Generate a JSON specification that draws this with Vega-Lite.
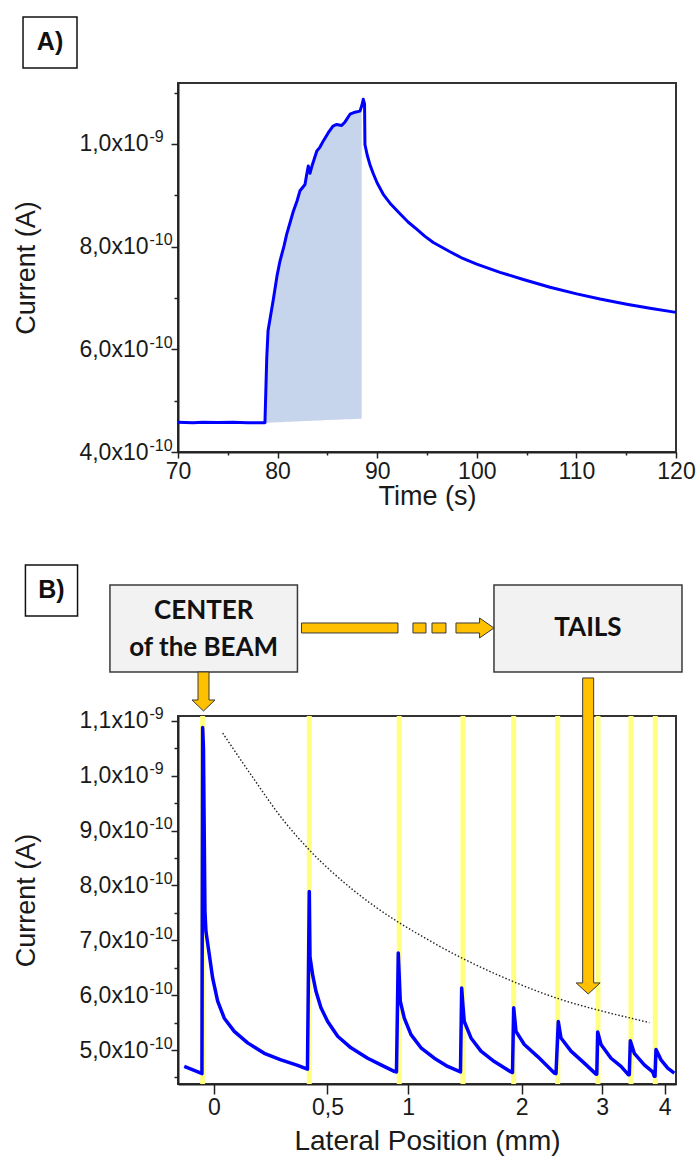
{
  "$schema": "https://vega.github.io/schema/vega-lite/v6.json",
  "background": "white",
  "padding": {"left": 11, "top": 15, "right": 0, "bottom": 0},
  "spacing": 53,
  "config": {
    "view": {"stroke": "#333333", "strokeWidth": 2},
    "axis": {
      "labelFont": "Liberation Sans", "labelFontSize": 23, "labelColor": "#1a1a1a",
      "titleFont": "Liberation Sans", "titleFontSize": 27, "titleFontWeight": "normal", "titleColor": "#1a1a1a",
      "domainColor": "#222222", "domainWidth": 2, "tickColor": "#222222", "tickWidth": 1.5,
      "grid": false, "labelFlush": false, "labelOverlap": false, "labelBound": false
    }
  },
  "vconcat": [
    {
      "width": 498,
      "height": 369,
      "layer": [
        {
          "data": {"values": [
            {"time": 78.85, "top": 4.57e-10, "base": 4.57e-10},
            {"time": 78.91, "top": 5.83e-10, "base": 4.57e-10},
            {"time": 79.04, "top": 6.36e-10, "base": 4.571e-10},
            {"time": 79.57, "top": 6.97e-10, "base": 4.576e-10},
            {"time": 79.94, "top": 7.43e-10, "base": 4.579e-10},
            {"time": 80.24, "top": 7.72e-10, "base": 4.581e-10},
            {"time": 80.64, "top": 8.01e-10, "base": 4.585e-10},
            {"time": 80.91, "top": 8.24e-10, "base": 4.587e-10},
            {"time": 81.24, "top": 8.46e-10, "base": 4.59e-10},
            {"time": 81.58, "top": 8.69e-10, "base": 4.592e-10},
            {"time": 81.95, "top": 8.89e-10, "base": 4.596e-10},
            {"time": 82.25, "top": 9.09e-10, "base": 4.598e-10},
            {"time": 82.75, "top": 9.21e-10, "base": 4.602e-10},
            {"time": 82.9, "top": 9.38e-10, "base": 4.604e-10},
            {"time": 83.08, "top": 9.57e-10, "base": 4.605e-10},
            {"time": 83.25, "top": 9.43e-10, "base": 4.607e-10},
            {"time": 83.45, "top": 9.57e-10, "base": 4.608e-10},
            {"time": 83.93, "top": 9.86e-10, "base": 4.612e-10},
            {"time": 84.26, "top": 9.94e-10, "base": 4.615e-10},
            {"time": 84.59, "top": 1.006e-9, "base": 4.618e-10},
            {"time": 85.09, "top": 1.022e-9, "base": 4.622e-10},
            {"time": 85.56, "top": 1.035e-9, "base": 4.626e-10},
            {"time": 85.93, "top": 1.038e-9, "base": 4.629e-10},
            {"time": 86.43, "top": 1.036e-9, "base": 4.633e-10},
            {"time": 86.77, "top": 1.043e-9, "base": 4.636e-10},
            {"time": 87.27, "top": 1.058e-9, "base": 4.64e-10},
            {"time": 87.77, "top": 1.062e-9, "base": 4.644e-10},
            {"time": 88.27, "top": 1.064e-9, "base": 4.649e-10},
            {"time": 88.44, "top": 1.066e-9, "base": 4.65e-10}
          ]},
          "mark": {"type": "area", "color": "#c6d4ec", "opacity": 1},
          "encoding": {
            "x": {"field": "time", "type": "quantitative",
                  "scale": {"domain": [70, 120], "nice": false, "zero": false},
                  "axis": {"orient": "bottom", "values": [70, 80, 90, 100, 110, 120], "tickSize": 6, "labelPadding": 2,
                           "labelExpr": "format(datum.value, 'd')", "title": "Time (s)", "titlePadding": 0}},
            "y": {"field": "top", "type": "quantitative",
                  "scale": {"domain": [4e-10, 1.1188e-9], "nice": false, "zero": false},
                  "axis": {"orient": "left", "values": [4e-10, 6e-10, 8e-10, 1e-9], "tickSize": 7, "labelPadding": 23,
                           "labelExpr": "datum.value < 9.5e-10 ? replace(format(datum.value * 1e10, '.1f'), '.', ',') + 'x10' : replace(format(datum.value * 1e9, '.1f'), '.', ',') + 'x10'",
                           "title": "Current (A)", "titlePadding": 38}},
            "y2": {"field": "base"}
          }
        },
        {
          "data": {"values": [
            {"time": 70, "current": 4.58e-10},
            {"time": 71.5, "current": 4.57e-10},
            {"time": 72.5, "current": 4.58e-10},
            {"time": 74, "current": 4.575e-10},
            {"time": 75.5, "current": 4.58e-10},
            {"time": 77, "current": 4.57e-10},
            {"time": 78.73, "current": 4.57e-10},
            {"time": 78.91, "current": 5.83e-10},
            {"time": 79.04, "current": 6.36e-10},
            {"time": 79.57, "current": 6.97e-10},
            {"time": 79.94, "current": 7.43e-10},
            {"time": 80.24, "current": 7.72e-10},
            {"time": 80.64, "current": 8.01e-10},
            {"time": 80.91, "current": 8.24e-10},
            {"time": 81.24, "current": 8.46e-10},
            {"time": 81.58, "current": 8.69e-10},
            {"time": 81.95, "current": 8.89e-10},
            {"time": 82.25, "current": 9.09e-10},
            {"time": 82.75, "current": 9.21e-10},
            {"time": 82.9, "current": 9.38e-10},
            {"time": 83.08, "current": 9.57e-10},
            {"time": 83.25, "current": 9.43e-10},
            {"time": 83.45, "current": 9.57e-10},
            {"time": 83.93, "current": 9.86e-10},
            {"time": 84.26, "current": 9.94e-10},
            {"time": 84.59, "current": 1.006e-9},
            {"time": 85.09, "current": 1.022e-9},
            {"time": 85.56, "current": 1.035e-9},
            {"time": 85.93, "current": 1.038e-9},
            {"time": 86.43, "current": 1.036e-9},
            {"time": 86.77, "current": 1.043e-9},
            {"time": 87.27, "current": 1.058e-9},
            {"time": 87.77, "current": 1.062e-9},
            {"time": 88.27, "current": 1.064e-9},
            {"time": 88.47, "current": 1.076e-9},
            {"time": 88.6, "current": 1.087e-9},
            {"time": 88.73, "current": 1.078e-9},
            {"time": 88.77, "current": 9.99e-10},
            {"time": 89.0, "current": 9.78e-10},
            {"time": 89.3, "current": 9.58e-10},
            {"time": 89.61, "current": 9.42e-10},
            {"time": 90.0, "current": 9.24e-10},
            {"time": 90.61, "current": 9.02e-10},
            {"time": 91.4, "current": 8.82e-10},
            {"time": 92.29, "current": 8.64e-10},
            {"time": 93.1, "current": 8.48e-10},
            {"time": 93.96, "current": 8.34e-10},
            {"time": 94.8, "current": 8.2e-10},
            {"time": 95.63, "current": 8.08e-10},
            {"time": 97.31, "current": 7.9e-10},
            {"time": 98.6, "current": 7.77e-10},
            {"time": 99.99, "current": 7.66e-10},
            {"time": 102.33, "current": 7.5e-10},
            {"time": 104.67, "current": 7.36e-10},
            {"time": 107.35, "current": 7.21e-10},
            {"time": 110.03, "current": 7.08e-10},
            {"time": 112.37, "current": 6.98e-10},
            {"time": 115.05, "current": 6.88e-10},
            {"time": 117.39, "current": 6.8e-10},
            {"time": 120, "current": 6.72e-10}
          ]},
          "mark": {"type": "line", "color": "#0000ff", "strokeWidth": 3, "strokeJoin": "round"},
          "encoding": {
            "x": {"field": "time", "type": "quantitative",
                  "scale": {"domain": [70, 120], "nice": false, "zero": false},
                  "axis": {"orient": "bottom", "values": [75, 85, 95, 105, 115], "tickSize": 3, "labels": false, "domain": false, "title": null}},
            "y": {"field": "current", "type": "quantitative",
                  "scale": {"domain": [4e-10, 1.1188e-9], "nice": false, "zero": false},
                  "axis": {"orient": "left", "values": [5e-10, 7e-10, 9e-10, 1.1e-9], "tickSize": 4, "labels": false, "domain": false, "title": null}}
          }
        },
        {
          "data": {"values": [{"t1": 54.44, "t2": 59.86, "c1": 1.2474e-9, "c2": 1.148e-9}]},
          "mark": {"type": "rect", "fill": "white", "stroke": "#111111", "strokeWidth": 1.5},
          "encoding": {
            "x": {"field": "t1", "type": "quantitative", "scale": {"domain": [70, 120], "nice": false, "zero": false}, "axis": null},
            "x2": {"field": "t2"},
            "y": {"field": "c1", "type": "quantitative", "scale": {"domain": [4e-10, 1.1188e-9], "nice": false, "zero": false},
                  "axis": {"orient": "left", "values": [4e-10, 6e-10, 8e-10, 1e-9], "ticks": false, "tickSize": 0, "domain": false,
                           "labelPadding": 29, "labelAlign": "left", "labelBaseline": "middle", "labelOffset": -7, "labelFontSize": 16,
                           "labelExpr": "datum.value < 9.5e-10 ? '-10' : '-9'", "title": null}},
            "y2": {"field": "c2"}
          }
        },
        {
          "data": {"values": [{"label": "A)", "time": 57.15, "current": 1.1977e-9}]},
          "mark": {"type": "text", "font": "Liberation Sans", "fontWeight": "bold", "fontSize": 25, "color": "#111111", "baseline": "middle", "align": "center"},
          "encoding": {
            "x": {"field": "time", "type": "quantitative", "scale": {"domain": [70, 120], "nice": false, "zero": false}, "axis": null},
            "y": {"field": "current", "type": "quantitative", "scale": {"domain": [4e-10, 1.1188e-9], "nice": false, "zero": false}, "axis": null},
            "text": {"field": "label"}
          }
        }
      ],
      "resolve": {"axis": {"x": "independent", "y": "independent"}}
    },
    {
      "width": 498,
      "height": 368,
      "layer": [
        {
          "data": {"values": [
            {"pos": -0.0412}, {"pos": 0.4055}, {"pos": 0.938}, {"pos": 1.433}, {"pos": 1.9165},
            {"pos": 2.413}, {"pos": 2.941}, {"pos": 3.434}, {"pos": 3.836}
          ]},
          "mark": {"type": "rule", "color": "#ffff80", "strokeWidth": 5},
          "encoding": {
            "x": {"field": "pos", "type": "quantitative",
                  "scale": {"type": "symlog", "constant": 1, "domain": [-0.137, 4.207], "nice": false, "zero": false},
                  "axis": {"orient": "bottom", "values": [0, 0.5, 1, 2, 3, 4], "tickSize": 10, "labelPadding": 2,
                           "labelExpr": "datum.value == 0.5 ? '0,5' : format(datum.value, 'd')",
                           "title": "Lateral Position (mm)", "titleFontSize": 28, "titlePadding": 8}}
          }
        },
        {
          "data": {"values": [
            {"pos": 0.0316, "current": 1.078e-9},
            {"pos": 0.1413, "current": 1.002e-9},
            {"pos": 0.2854, "current": 9.17e-10},
            {"pos": 0.4055, "current": 8.65e-10},
            {"pos": 0.6312, "current": 7.95e-10},
            {"pos": 0.9383, "current": 7.32e-10},
            {"pos": 1.1193, "current": 7.05e-10},
            {"pos": 1.2632, "current": 6.86e-10},
            {"pos": 1.4308, "current": 6.67e-10},
            {"pos": 1.9227, "current": 6.24e-10},
            {"pos": 2.4128, "current": 5.94e-10},
            {"pos": 2.9368, "current": 5.73e-10},
            {"pos": 3.434, "current": 5.58e-10},
            {"pos": 3.7335, "current": 5.5e-10}
          ]},
          "mark": {"type": "line", "color": "#222222", "strokeWidth": 1.4, "strokeDash": [1.5, 2], "interpolate": "monotone"},
          "encoding": {
            "x": {"field": "pos", "type": "quantitative",
                  "scale": {"type": "symlog", "constant": 1, "domain": [-0.137, 4.207], "nice": false, "zero": false}, "axis": null},
            "y": {"field": "current", "type": "quantitative",
                  "scale": {"domain": [4.38e-10, 1.1091e-9], "nice": false, "zero": false},
                  "axis": {"orient": "left", "values": [4.5e-10, 5.5e-10, 6.5e-10, 7.5e-10, 8.5e-10, 9.5e-10, 1.05e-9], "tickSize": 4, "labels": false, "domain": false, "title": null}}
          }
        },
        {
          "data": {"values": [
            {"pos": -0.1119, "current": 4.7e-10},
            {"pos": -0.0475, "current": 4.58e-10},
            {"pos": -0.0438, "current": 4.57e-10},
            {"pos": -0.0412, "current": 1.088e-9},
            {"pos": -0.0382, "current": 1.05e-9},
            {"pos": -0.0345, "current": 8.5e-10},
            {"pos": -0.0327, "current": 7.53e-10},
            {"pos": -0.029, "current": 7.16e-10},
            {"pos": -0.0169, "current": 6.74e-10},
            {"pos": -0.0046, "current": 6.31e-10},
            {"pos": 0.0133, "current": 5.89e-10},
            {"pos": 0.0375, "current": 5.58e-10},
            {"pos": 0.0752, "current": 5.34e-10},
            {"pos": 0.1279, "current": 5.13e-10},
            {"pos": 0.1968, "current": 4.94e-10},
            {"pos": 0.2703, "current": 4.82e-10},
            {"pos": 0.3484, "current": 4.72e-10},
            {"pos": 0.389, "current": 4.66e-10},
            {"pos": 0.3964, "current": 4.65e-10},
            {"pos": 0.4055, "current": 7.89e-10},
            {"pos": 0.409, "current": 6.7e-10},
            {"pos": 0.4226, "current": 6.37e-10},
            {"pos": 0.4395, "current": 6.07e-10},
            {"pos": 0.4654, "current": 5.77e-10},
            {"pos": 0.5009, "current": 5.52e-10},
            {"pos": 0.5555, "current": 5.25e-10},
            {"pos": 0.6312, "current": 5.04e-10},
            {"pos": 0.7314, "current": 4.85e-10},
            {"pos": 0.8156, "current": 4.73e-10},
            {"pos": 0.904, "current": 4.61e-10},
            {"pos": 0.919, "current": 4.6e-10},
            {"pos": 0.9313, "current": 6.77e-10},
            {"pos": 0.9452, "current": 5.89e-10},
            {"pos": 0.9732, "current": 5.58e-10},
            {"pos": 1.021, "current": 5.28e-10},
            {"pos": 1.0945, "current": 5.04e-10},
            {"pos": 1.1964, "current": 4.85e-10},
            {"pos": 1.304, "current": 4.7e-10},
            {"pos": 1.4014, "current": 4.61e-10},
            {"pos": 1.4117, "current": 4.6e-10},
            {"pos": 1.4221, "current": 6.13e-10},
            {"pos": 1.4334, "current": 5.8e-10},
            {"pos": 1.4447, "current": 5.52e-10},
            {"pos": 1.5039, "current": 5.22e-10},
            {"pos": 1.5949, "current": 4.98e-10},
            {"pos": 1.7212, "current": 4.79e-10},
            {"pos": 1.8884, "current": 4.6e-10},
            {"pos": 1.904, "current": 4.59e-10},
            {"pos": 1.9165, "current": 5.77e-10},
            {"pos": 1.9405, "current": 5.34e-10},
            {"pos": 2.029, "current": 5.1e-10},
            {"pos": 2.1774, "current": 4.88e-10},
            {"pos": 2.3715, "current": 4.58e-10},
            {"pos": 2.3921, "current": 4.57e-10},
            {"pos": 2.42, "current": 5.52e-10},
            {"pos": 2.4532, "current": 5.22e-10},
            {"pos": 2.5788, "current": 4.98e-10},
            {"pos": 2.7529, "current": 4.76e-10},
            {"pos": 2.913, "current": 4.56e-10},
            {"pos": 2.9242, "current": 4.56e-10},
            {"pos": 2.9368, "current": 5.33e-10},
            {"pos": 2.9835, "current": 5.1e-10},
            {"pos": 3.1284, "current": 4.85e-10},
            {"pos": 3.2784, "current": 4.7e-10},
            {"pos": 3.3915, "current": 4.55e-10},
            {"pos": 3.4072, "current": 4.55e-10},
            {"pos": 3.423, "current": 5.17e-10},
            {"pos": 3.4866, "current": 4.94e-10},
            {"pos": 3.6497, "current": 4.73e-10},
            {"pos": 3.7913, "current": 4.6e-10},
            {"pos": 3.8188, "current": 4.52e-10},
            {"pos": 3.8308, "current": 4.52e-10},
            {"pos": 3.8481, "current": 5.01e-10},
            {"pos": 3.9355, "current": 4.82e-10},
            {"pos": 4.055, "current": 4.67e-10},
            {"pos": 4.1756, "current": 4.58e-10}
          ]},
          "mark": {"type": "line", "color": "#0000ff", "strokeWidth": 3.5, "strokeJoin": "round"},
          "encoding": {
            "x": {"field": "pos", "type": "quantitative",
                  "scale": {"type": "symlog", "constant": 1, "domain": [-0.137, 4.207], "nice": false, "zero": false}, "axis": null},
            "y": {"field": "current", "type": "quantitative",
                  "scale": {"domain": [4.38e-10, 1.1091e-9], "nice": false, "zero": false},
                  "axis": {"orient": "left", "values": [5e-10, 6e-10, 7e-10, 8e-10, 9e-10, 1e-9, 1.1e-9], "tickSize": 7, "labelPadding": 23,
                           "labelExpr": "datum.value < 9.5e-10 ? replace(format(datum.value * 1e10, '.1f'), '.', ',') + 'x10' : replace(format(datum.value * 1e9, '.1f'), '.', ',') + 'x10'",
                           "title": "Current (A)", "titlePadding": 38}}
          }
        },
        {
          "data": {"values": [{"p1": -0.9606, "p2": -0.6276, "c1": 1.3845e-9, "c2": 1.2915e-9}]},
          "mark": {"type": "rect", "fill": "white", "stroke": "#111111", "strokeWidth": 1.5},
          "encoding": {
            "x": {"field": "p1", "type": "quantitative", "scale": {"type": "symlog", "constant": 1, "domain": [-0.137, 4.207], "nice": false, "zero": false}, "axis": null},
            "x2": {"field": "p2"},
            "y": {"field": "c1", "type": "quantitative", "scale": {"domain": [4.38e-10, 1.1091e-9], "nice": false, "zero": false},
                  "axis": {"orient": "left", "values": [5e-10, 6e-10, 7e-10, 8e-10, 9e-10, 1e-9, 1.1e-9], "ticks": false, "tickSize": 0, "domain": false,
                           "labelPadding": 29, "labelAlign": "left", "labelBaseline": "middle", "labelOffset": -7, "labelFontSize": 16,
                           "labelExpr": "datum.value < 9.5e-10 ? '-10' : '-9'", "title": null}},
            "y2": {"field": "c2"}
          }
        },
        {
          "data": {"values": [
            {"p1": -0.4498, "p2": 0.3474, "c1": 1.348e-9, "c2": 1.1894e-9},
            {"p1": 1.7183, "p2": 4.3195, "c1": 1.348e-9, "c2": 1.1894e-9}
          ]},
          "mark": {"type": "rect", "fill": "#f2f2f2", "stroke": "#3a3a3a", "strokeWidth": 1.5},
          "encoding": {
            "x": {"field": "p1", "type": "quantitative", "scale": {"type": "symlog", "constant": 1, "domain": [-0.137, 4.207], "nice": false, "zero": false}, "axis": null},
            "x2": {"field": "p2"},
            "y": {"field": "c1", "type": "quantitative", "scale": {"domain": [4.38e-10, 1.1091e-9], "nice": false, "zero": false}, "axis": null},
            "y2": {"field": "c2"}
          }
        },
        {
          "data": {"values": [
            {"p1": 0.3668, "p2": 0.9293, "c1": 1.2787e-9, "c2": 1.2605e-9},
            {"p1": 1.0354, "p2": 1.1322, "c1": 1.2787e-9, "c2": 1.2605e-9},
            {"p1": 1.1785, "p2": 1.2901, "c1": 1.2787e-9, "c2": 1.2605e-9}
          ]},
          "mark": {"type": "rect", "fill": "#ffc000", "stroke": "#3a3a3a", "strokeWidth": 1},
          "encoding": {
            "x": {"field": "p1", "type": "quantitative", "scale": {"type": "symlog", "constant": 1, "domain": [-0.137, 4.207], "nice": false, "zero": false}, "axis": null},
            "x2": {"field": "p2"},
            "y": {"field": "c1", "type": "quantitative", "scale": {"domain": [4.38e-10, 1.1091e-9], "nice": false, "zero": false}, "axis": null},
            "y2": {"field": "c2"}
          }
        },
        {
          "data": {"values": [{"pos": 1.5399, "current": 1.2696e-9}]},
          "mark": {"type": "point", "filled": true, "opacity": 1, "fill": "#ffc000", "stroke": "#3a3a3a", "strokeWidth": 1, "size": 1444,
                   "shape": "M-1,-0.263L0.242,-0.263L0.242,-0.526L1,0L0.242,0.526L0.242,0.263L-1,0.263Z"},
          "encoding": {
            "x": {"field": "pos", "type": "quantitative", "scale": {"type": "symlog", "constant": 1, "domain": [-0.137, 4.207], "nice": false, "zero": false}, "axis": null},
            "y": {"field": "current", "type": "quantitative", "scale": {"domain": [4.38e-10, 1.1091e-9], "nice": false, "zero": false}, "axis": null}
          }
        },
        {
          "data": {"values": [{"pos": -0.038, "current": 1.1538e-9}]},
          "mark": {"type": "point", "filled": true, "opacity": 1, "fill": "#ffc000", "stroke": "#3a3a3a", "strokeWidth": 1, "size": 1521,
                   "shape": "M-0.282,-1L0.282,-1L0.282,0.436L0.59,0.436L0,1L-0.59,0.436L-0.282,0.436Z"},
          "encoding": {
            "x": {"field": "pos", "type": "quantitative", "scale": {"type": "symlog", "constant": 1, "domain": [-0.137, 4.207], "nice": false, "zero": false}, "axis": null},
            "y": {"field": "current", "type": "quantitative", "scale": {"domain": [4.38e-10, 1.1091e-9], "nice": false, "zero": false}, "axis": null}
          }
        },
        {
          "data": {"values": [{"pos": 2.805, "current": 8.903e-10}]},
          "mark": {"type": "point", "filled": true, "opacity": 1, "fill": "#ffc000", "stroke": "#3a3a3a", "strokeWidth": 1, "size": 99856,
                   "shape": "M-0.0348,-1L0.0348,-1L0.0348,0.93L0.076,0.93L0,1L-0.076,0.93L-0.0348,0.93Z"},
          "encoding": {
            "x": {"field": "pos", "type": "quantitative", "scale": {"type": "symlog", "constant": 1, "domain": [-0.137, 4.207], "nice": false, "zero": false}, "axis": null},
            "y": {"field": "current", "type": "quantitative", "scale": {"domain": [4.38e-10, 1.1091e-9], "nice": false, "zero": false}, "axis": null}
          }
        },
        {
          "data": {"values": [{"label": "B)", "pos": -0.7867, "current": 1.338e-9}]},
          "mark": {"type": "text", "font": "Liberation Sans", "fontWeight": "bold", "fontSize": 25, "color": "#111111", "baseline": "middle", "align": "center"},
          "encoding": {
            "x": {"field": "pos", "type": "quantitative", "scale": {"type": "symlog", "constant": 1, "domain": [-0.137, 4.207], "nice": false, "zero": false}, "axis": null},
            "y": {"field": "current", "type": "quantitative", "scale": {"domain": [4.38e-10, 1.1091e-9], "nice": false, "zero": false}, "axis": null},
            "text": {"field": "label"}
          }
        },
        {
          "data": {"values": [
            {"label": "CENTER", "pos": -0.0373, "current": 1.3006e-9},
            {"label": "of the BEAM", "pos": -0.0373, "current": 1.2331e-9},
            {"label": "TAILS", "pos": 2.8027, "current": 1.2696e-9}
          ]},
          "mark": {"type": "text", "font": "Lato", "fontWeight": "bold", "fontSize": 26, "color": "#111111", "baseline": "middle", "align": "center"},
          "encoding": {
            "x": {"field": "pos", "type": "quantitative", "scale": {"type": "symlog", "constant": 1, "domain": [-0.137, 4.207], "nice": false, "zero": false}, "axis": null},
            "y": {"field": "current", "type": "quantitative", "scale": {"domain": [4.38e-10, 1.1091e-9], "nice": false, "zero": false}, "axis": null},
            "text": {"field": "label"}
          }
        }
      ],
      "resolve": {"axis": {"x": "independent", "y": "independent"}}
    }
  ]
}
